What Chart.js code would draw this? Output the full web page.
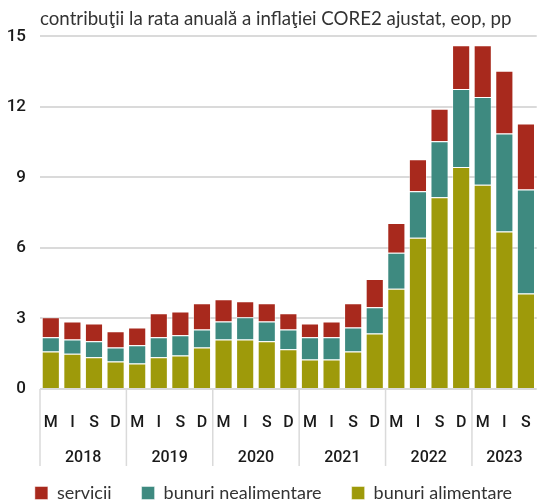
<!DOCTYPE html>
<html>
<head>
<meta charset="utf-8">
<script src="https://cdn.jsdelivr.net/npm/chart.js@4.4.0/dist/chart.umd.min.js"></script>
<style>
    html, body { margin: 0; padding: 0; background: #fff; }
    #wrap { width: 547px; height: 504px; position: relative; }
</style>
</head>
<body>
<div id="wrap"><canvas id="Chart"></canvas></div>
<script>
// trimestre
const months = ['M', 'I', 'S', 'D', 'M', 'I', 'S', 'D', 'M', 'I', 'S', 'D',
    'M', 'I', 'S', 'D', 'M', 'I', 'S', 'D', 'M', 'I', 'S'];
const years = ['2018', '2019', '2020', '2021', '2022', '2023'];
const yearCounts = [4, 4, 4, 4, 4, 3];
const yTicks = [0, 3, 6, 9, 12, 15];

// contributii, pp
const alimentare = [1.60, 1.50, 1.35, 1.17, 1.09, 1.35, 1.43, 1.77, 2.11, 2.11, 2.03, 1.69,
    1.26, 1.26, 1.60, 2.36, 4.26, 6.44, 8.16, 9.44, 8.69, 6.70, 4.06];
const nealimentare = [0.60, 0.61, 0.68, 0.60, 0.77, 0.85, 0.86, 0.76, 0.76, 0.94, 0.84, 0.84,
    0.94, 0.94, 1.02, 1.12, 1.54, 1.97, 2.38, 3.32, 3.73, 4.17, 4.43];
const servicii = [0.85, 0.76, 0.76, 0.69, 0.76, 1.02, 1.01, 1.12, 0.95, 0.68, 0.78, 0.69,
    0.59, 0.67, 1.03, 1.20, 1.26, 1.36, 1.38, 1.87, 2.21, 2.67, 2.81];

const narrow = 'Roboto, "Liberation Sans", sans-serif';
const regular = 'Lato, "Open Sans", sans-serif';
const gridColor = '#dadada';

// ani + separatoare sub axa
const yearAxis = {
    id: 'yearAxis',
    afterDraw(chart) {
        const xs = chart.scales.x;
        const ctx = chart.ctx;
        const half = (xs.getPixelForValue(1) - xs.getPixelForValue(0)) / 2;
        const top = chart.chartArea.bottom;
        ctx.save();
        ctx.strokeStyle = gridColor;
        ctx.lineWidth = 1.5;
        ctx.fillStyle = '#1a1a1a';
        ctx.font = '500 16px ' + narrow;
        ctx.textAlign = 'center';
        ctx.textBaseline = 'middle';
        let start = 0;
        years.forEach((y, i) => {
            const end = start + yearCounts[i] - 1;
            const left = xs.getPixelForValue(start) - half;
            ctx.beginPath();
            ctx.moveTo(left, top);
            ctx.lineTo(left, top + 77);
            ctx.stroke();
            const mid = (xs.getPixelForValue(start) + xs.getPixelForValue(end)) / 2;
            ctx.fillText(y, mid, top + 69);
            start = end + 1;
        });
        ctx.restore();
    }
};

const ctx = document.getElementById('Chart');
const chart = new Chart(ctx, {
    type: 'bar',
    data: {
        labels: months,
        datasets: [
            { label: 'bunuri alimentare', data: alimentare, backgroundColor: '#9e9a0a' },
            { label: 'bunuri nealimentare', data: nealimentare, backgroundColor: '#3e8a80' },
            { label: 'servicii', data: servicii, backgroundColor: '#a8291d' }
        ].map(d => Object.assign(d, {
            borderColor: 'rgba(255,255,255,0.45)',
            borderWidth: 1,
            barPercentage: 0.84,
            categoryPercentage: 1
        }))
    },
    options: {
        responsive: true,
        maintainAspectRatio: false,
        animation: false,
        layout: { padding: { left: 0, right: 0, top: 8, bottom: -8 } },
        scales: {
            x: {
                stacked: true,
                grid: { display: false },
                border: { display: false },
                ticks: {
                    color: '#1a1a1a',
                    font: { family: narrow, size: 16, weight: 500 },
                    padding: 16,
                    maxRotation: 0,
                    autoSkip: false
                },
                afterFit: s => { s.height = 65; }
            },
            y: {
                stacked: true,
                min: 0,
                max: 15,
                afterBuildTicks: s => { s.ticks = yTicks.map(v => ({ value: v })); },
                grid: { color: gridColor, lineWidth: 2, drawTicks: false },
                border: { display: false },
                ticks: {
                    color: '#1a1a1a',
                    font: { family: narrow, size: 17, weight: 500 },
                    padding: 14
                },
                afterFit: s => { s.width = 40; }
            }
        },
        plugins: {
            title: {
                display: true,
                text: 'contribuţii la rata anuală a inflaţiei CORE2 ajustat, eop, pp',
                align: 'start',
                fullSize: false,
                color: '#333',
                font: { family: regular, size: 18.7, weight: 'normal' },
                padding: { top: 0, bottom: 6 }
            },
            legend: {
                position: 'bottom',
                reverse: true,
                labels: {
                    color: '#333',
                    font: { family: regular, size: 18 },
                    boxWidth: 13,
                    boxHeight: 13,
                    padding: 30
                }
            },
            tooltip: { enabled: false }
        }
    },
    plugins: [yearAxis]
});
</script>
</body>
</html>
